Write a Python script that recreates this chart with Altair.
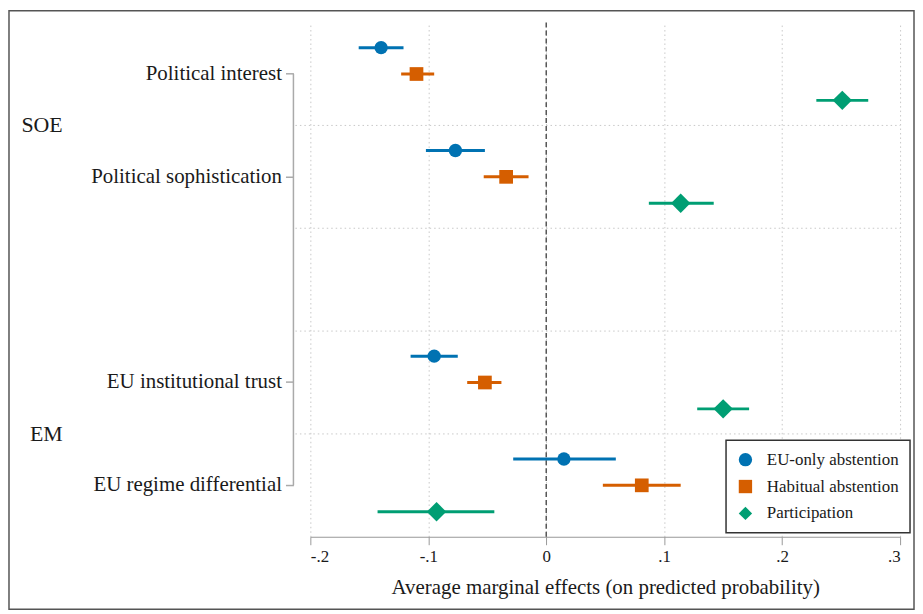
import altair as alt
import pandas as pd

# ---------------- data ----------------
variables = ["Political interest", "Political sophistication",
             "EU institutional trust", "EU regime differential"]
slots = ["Political interest", "Political sophistication", " ",
         "EU institutional trust", "EU regime differential"]
series = ["EU-only abstention", "Habitual abstention", "Participation"]
colors = ["#0072B2", "#D55E00", "#009E73"]
shapes = ["circle", "square", "diamond"]
sizes = [180, 190, 380]

est_eu_only = [-0.140, -0.077, -0.095, 0.015]
lo_eu_only = [-0.159, -0.102, -0.115, -0.028]
hi_eu_only = [-0.121, -0.052, -0.075, 0.059]

est_habitual = [-0.110, -0.034, -0.052, 0.081]
lo_habitual = [-0.123, -0.053, -0.067, 0.048]
hi_habitual = [-0.095, -0.015, -0.038, 0.114]

est_particip = [0.251, 0.114, 0.150, -0.093]
lo_particip = [0.229, 0.087, 0.128, -0.143]
hi_particip = [0.273, 0.142, 0.172, -0.044]

groups = ["SOE", "EM"]
group_anchor = ["Political sophistication", "EU regime differential"]
grid_slots = ["Political sophistication", " ", "EU institutional trust", "EU regime differential"]

x_ticks = [-0.2, -0.1, 0.0, 0.1, 0.2, 0.3]
x_labels = ["-.2", "-.1", "0", ".1", ".2", ".3"]
x_title = "Average marginal effects (on predicted probability)"

# ---------------- tables ----------------
rows = []
for s, est, lo, hi in zip(series,
                          [est_eu_only, est_habitual, est_particip],
                          [lo_eu_only, lo_habitual, lo_particip],
                          [hi_eu_only, hi_habitual, hi_particip]):
    for v, e, l, h in zip(variables, est, lo, hi):
        rows.append({"variable": v, "series": s, "est": e, "lo": l, "hi": h})
df = pd.DataFrame(rows)
df_groups = pd.DataFrame({"group": groups, "anchor": group_anchor})
df_grid = pd.DataFrame({"slot": grid_slots})
df_zero = pd.DataFrame({"x": [0.0]})
df_dom = pd.DataFrame({"a": [variables[0]], "b": [variables[-1]]})
df_frame = pd.DataFrame({"k": [1]})

W, H = 593, 517
SERIF = "Liberation Serif, DejaVu Serif, Times New Roman, serif"
TXT = "#1a1a1a"

label_expr = " : ".join(
    f"abs(datum.value - ({v})) < 1e-6 ? '{l}'" for v, l in zip(x_ticks, x_labels)
) + " : ''"

yscale = alt.Scale(domain=slots, paddingInner=0, paddingOuter=0)
xscale = alt.Scale(domain=[x_ticks[0], x_ticks[-1]], nice=False, zero=False)

x_axis = alt.Axis(values=x_ticks, labelExpr=label_expr, title=x_title,
                  grid=True, gridColor="#c8c8c8", gridDash=[1.5, 3], gridWidth=1,
                  domainColor="#999", tickColor="#999", tickSize=8, domainWidth=1.2,
                  labelFont=SERIF, labelFontSize=17, labelColor=TXT, labelPadding=4,
                  titleFont=SERIF, titleFontSize=21, titleFontWeight="normal",
                  titleColor=TXT, titlePadding=12)

y_axis = alt.Axis(values=variables, title=None, domain=False, grid=False,
                  offset=17, tickSize=8, tickColor="#aaa", tickWidth=1.5,
                  labelFont=SERIF, labelFontSize=21, labelColor=TXT, labelPadding=4,
                  labelLimit=400)

yoff = alt.YOffset("series:N", scale=alt.Scale(domain=series, paddingOuter=0.45, paddingInner=0))
color = alt.Color("series:N", scale=alt.Scale(domain=series, range=colors),
                  legend=alt.Legend(title=None))
shape = alt.Shape("series:N", scale=alt.Scale(domain=series, range=shapes),
                  legend=alt.Legend(title=None))

# horizontal dotted separators
grid = alt.Chart(df_grid).mark_rule(color="#c8c8c8", strokeDash=[1.5, 3], strokeWidth=1).encode(
    y=alt.Y("slot:N", scale=yscale, axis=y_axis, bandPosition=0),
    x=alt.value(-15), x2=alt.value(W)
)

# zero reference line
zero = alt.Chart(df_zero).mark_rule(color="#555", strokeDash=[5, 3], strokeWidth=1.5).encode(
    x=alt.X("x:Q", scale=xscale, axis=x_axis)
)

# y axis line (spanning first to last variable)
dom = alt.Chart(df_dom).mark_rule(color="#aaa", strokeWidth=1.5).encode(
    y=alt.Y("a:N", scale=yscale, axis=y_axis),
    y2="b:N",
    x=alt.value(-17)
)

bars = alt.Chart(df).mark_rule(strokeWidth=3).encode(
    y=alt.Y("variable:N", scale=yscale, axis=y_axis),
    yOffset=yoff,
    x=alt.X("lo:Q", scale=xscale, axis=x_axis),
    x2="hi:Q",
    color=color
)

pt_layers = []
for s, sz in zip(series, sizes):
    pt_layers.append(
        alt.Chart(df).transform_filter(alt.datum.series == s)
        .mark_point(filled=True, opacity=1, size=sz)
        .encode(
            y=alt.Y("variable:N", scale=yscale, axis=y_axis),
            yOffset=yoff,
            x=alt.X("est:Q", scale=xscale, axis=x_axis),
            color=color,
            shape=shape,
        )
    )

glabels = alt.Chart(df_groups).mark_text(font=SERIF, fontSize=22, color=TXT,
                                         align="right", baseline="middle").encode(
    y=alt.Y("anchor:N", scale=yscale, axis=y_axis, bandPosition=0),
    x=alt.value(-249),
    text="group:N"
)

frame = alt.Chart(df_frame).mark_rect(fill=None, stroke="#555", strokeWidth=1.5).encode(
    x=alt.value(-303), x2=alt.value(607), y=alt.value(-12), y2=alt.value(590)
)

chart = alt.layer(grid, zero, dom, bars, *pt_layers, glabels, frame).properties(
    width=W, height=H,
    autosize=alt.AutoSizeParams(type="none"),
    padding={"left": 304, "top": 13, "right": 15, "bottom": 76}
).configure_view(stroke=None).configure_legend(
    orient="none", legendX=418, legendY=420,
    strokeColor="#333", strokeWidth=1.5, fillColor="white",
    padding=11, rowPadding=9, symbolSize=180, symbolType="circle",
    labelFont=SERIF, labelFontSize=17, labelColor=TXT, labelOffset=13,
    symbolStrokeWidth=0
)

chart.save("out.html", embed_options={"renderer": "svg", "actions": False})
